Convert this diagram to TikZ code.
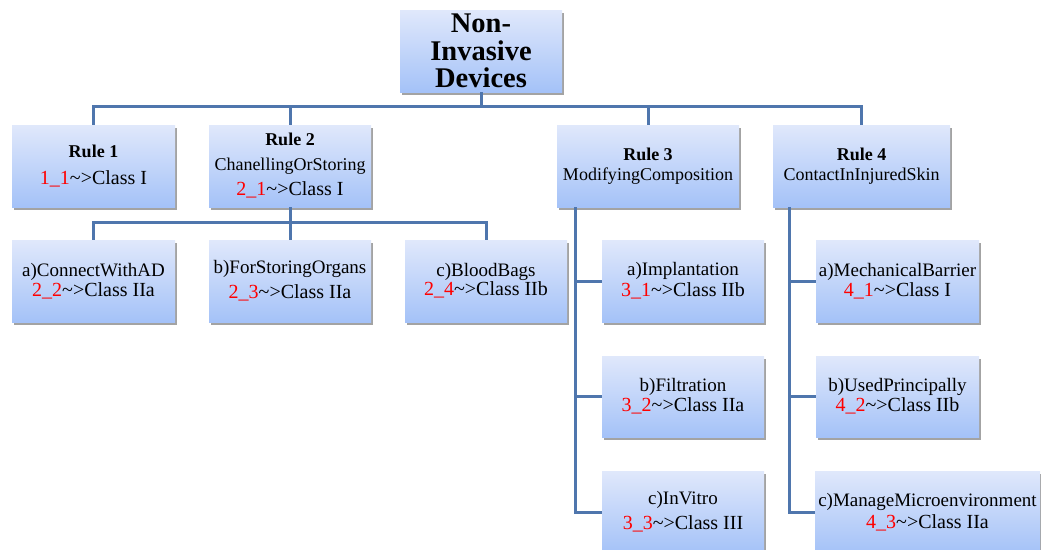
\documentclass[tikz,border=0pt]{standalone}
\usepackage{fontspec}
\setmainfont{Liberation Serif}
\usetikzlibrary{shadows}

\definecolor{boxtop}{RGB}{224,232,251}
\definecolor{boxbot}{RGB}{164,194,248}
\definecolor{linkblue}{RGB}{79,118,173}
\definecolor{codered}{RGB}{255,0,0}

% red rule code followed by the resulting class
\newcommand{\clsline}[2]{{\fontsize{20}{20}\selectfont\textcolor{codered}{#1}\textasciitilde>Class #2}}
\newcommand{\rulehead}[1]{{\bfseries #1}}

\tikzset{
  card/.style={shading=axis, top color=boxtop, bottom color=boxbot, draw=none,
    inner sep=0pt, align=center, minimum height=82pt,
    drop shadow={shadow xshift=1.5pt, shadow yshift=-2.5pt, fill=black!45, opacity=.8}},
  rulecard/.style={card, font=\fontsize{18}{#1}\selectfont},
  leafcard/.style={card, font=\fontsize{19}{#1}\selectfont},
  link/.style={draw=linkblue, line width=3pt},
}

\begin{document}
\begin{tikzpicture}[x=1pt, y=-1pt]
\useasboundingbox (0,0) rectangle (1041,549);

% root
\node[card, minimum width=162pt, font=\bfseries\fontsize{28.5}{27.5}\selectfont]
  (root) at (481,51) {Non-\\Invasive\\Devices};

% rules
\node[rulecard=27, minimum width=163pt] (r1) at (93.5,166)
  {\rulehead{Rule 1}\\\clsline{1\_1}{I}};
\node[rulecard=25, minimum width=162pt] (r2) at (290,166)
  {\rulehead{Rule 2}\\ChanellingOrStoring\\\clsline{2\_1}{I}};
\node[rulecard=20, minimum width=182pt] (r3) at (648,166)
  {\rulehead{Rule 3}\\ModifyingComposition};
\node[rulecard=20, minimum width=177pt] (r4) at (861.5,166)
  {\rulehead{Rule 4}\\ContactInInjuredSkin};

% rule 2 branches
\node[leafcard=19.5, minimum width=163pt] (a2) at (93.5,281)
  {a)ConnectWithAD\\\clsline{2\_2}{IIa}};
\node[leafcard=25, minimum width=162pt] (b2) at (290,281)
  {b)ForStoringOrgans\\\clsline{2\_3}{IIa}};
\node[leafcard=19, minimum width=162pt] (c2) at (486,281)
  {c)BloodBags\\\clsline{2\_4}{IIb}};

% rule 3 branches
\node[leafcard=21, minimum width=162pt] (a3) at (683,281)
  {a)Implantation\\\clsline{3\_1}{IIb}};
\node[leafcard=20, minimum width=162pt, minimum height=81pt] (b3) at (683,396.5)
  {b)Filtration\\\clsline{3\_2}{IIa}};
\node[leafcard=25, minimum width=162pt] (c3) at (683,512)
  {c)InVitro\\\clsline{3\_3}{III}};

% rule 4 branches
\node[leafcard=20, minimum width=163pt] (a4) at (897.5,281)
  {a)MechanicalBarrier\\\clsline{4\_1}{I}};
\node[leafcard=20, minimum width=163pt, minimum height=81pt] (b4) at (897.5,396.5)
  {b)UsedPrincipally\\\clsline{4\_2}{IIb}};
\node[leafcard=22, minimum width=225pt] (c4) at (927.5,512)
  {c)ManageMicroenvironment\\\clsline{4\_3}{IIa}};

% connectors
\coordinate (busA) at (481,106);
\coordinate (busB) at (290,222);
\coordinate (stem3) at (575,0);
\coordinate (stem4) at (789,0);

\draw[link] (root.south) -- (busA);
\draw[link] (r1.north) |- (busA) -| (r4.north);
\draw[link] (r2.north) -- (r2.north |- busA);
\draw[link] (r3.north) -- (r3.north |- busA);

\draw[link] (r2.south) -- (busB);
\draw[link] (a2.north) |- (busB) -| (c2.north);
\draw[link] (b2.north) -- (b2.north |- busB);

\draw[link] (r3.south -| stem3) |- (c3.west);
\draw[link] (a3.west -| stem3) -- (a3.west);
\draw[link] (b3.west -| stem3) -- (b3.west);

\draw[link] (r4.south -| stem4) |- (c4.west);
\draw[link] (a4.west -| stem4) -- (a4.west);
\draw[link] (b4.west -| stem4) -- (b4.west);
\end{tikzpicture}
\end{document}
